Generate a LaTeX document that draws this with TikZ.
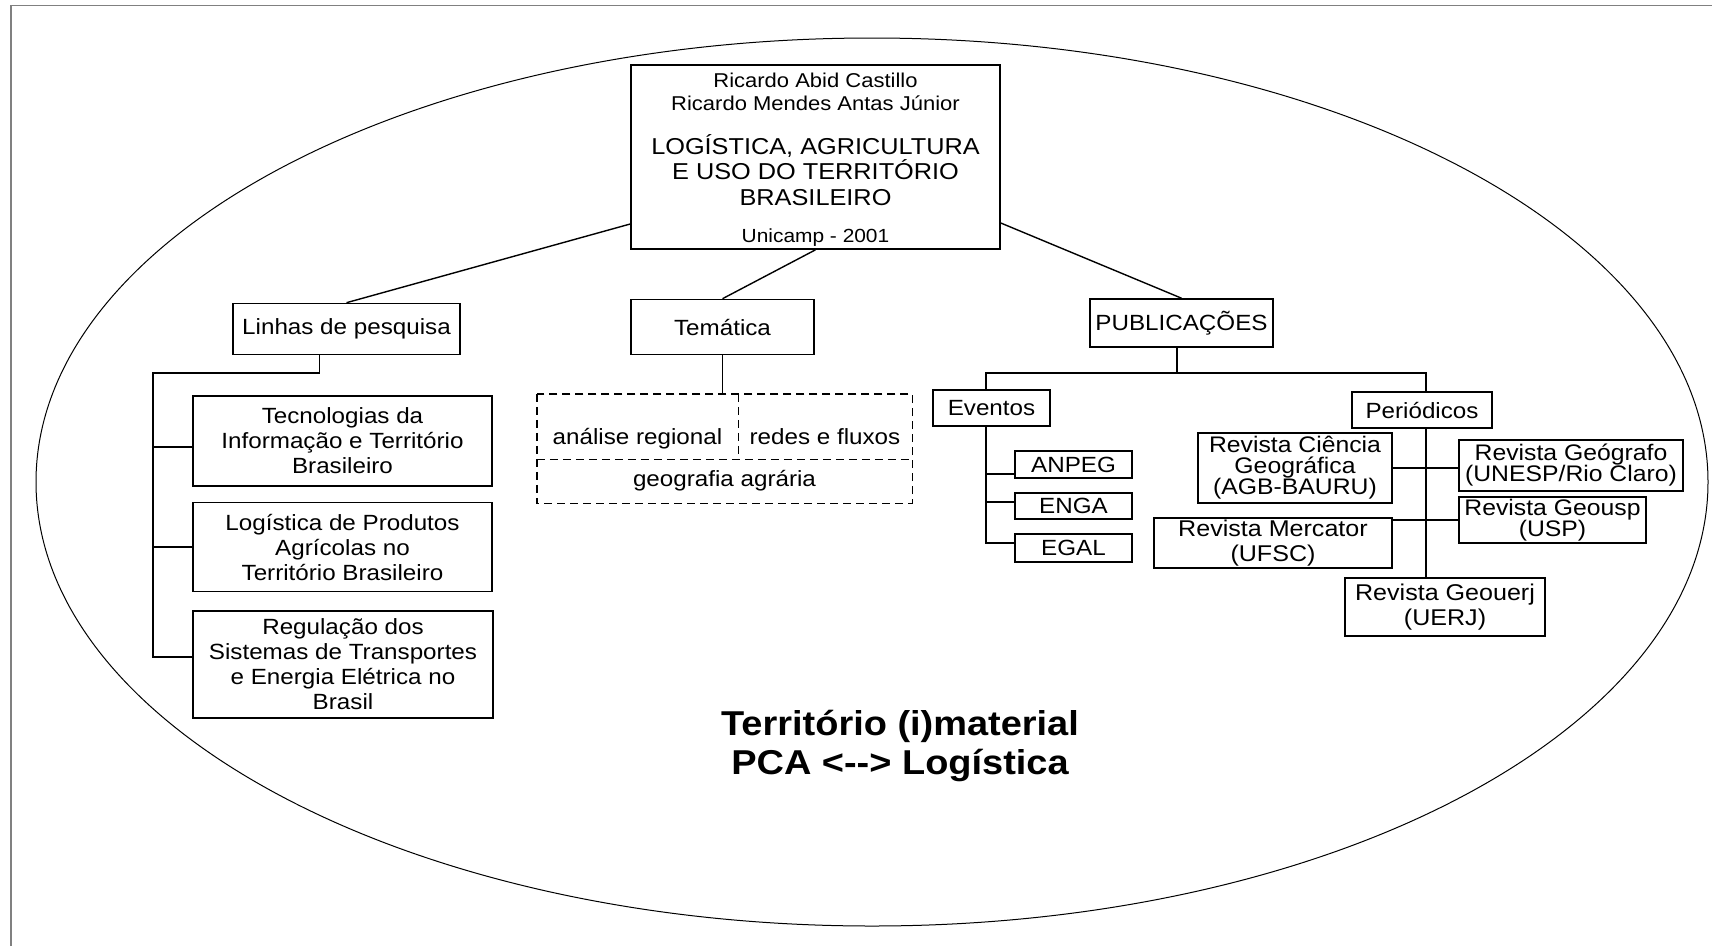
\documentclass[tikz,border=0pt]{standalone}
\usepackage{fontspec}
\setsansfont{Liberation Sans}[FakeStretch=1.1]
\usetikzlibrary{positioning, calc}
\tikzset{every node/.style={font=\sffamily}}
\definecolor{moldura}{HTML}{808080}

\begin{document}
\begin{tikzpicture}[x=1pt, y=-1pt,
    caixa/.style={draw, line width=1.6pt, inner sep=0pt, align=center, font=\sffamily\fontsize{22}{25}\selectfont},
    caixarev/.style={caixa, font=\sffamily\fontsize{22.5}{21}\selectfont},
    rotulo/.style={inner sep=0pt, font=\sffamily\fontsize{22}{25}\selectfont},
    textobaixo/.style={text height=35pt, text depth=0pt},
    tracejado/.style={dash pattern=on 8pt off 5pt, line width=1.4pt},
    liga/.style={line width=1.8pt},
    ramo/.style={line width=1.4pt}]
    \useasboundingbox (0,0) rectangle (1712,946);
    \draw[moldura, line width=1.5pt] (11,946) -- (11,5.5) -- (1712,5.5);
    \draw[line width=1pt] (872,482) ellipse [x radius=836pt, y radius=444pt];

    \node[draw, line width=1.6pt, minimum width=369pt, minimum height=184pt] (T) at (815.5,157) {};
    \node[align=center, font=\sffamily\fontsize{20}{23.4}\selectfont] (Aut) at (815.5,92) {Ricardo Abid Castillo\\Ricardo Mendes Antas Júnior};
    \node[align=center, font=\sffamily\fontsize{23}{25.8}\selectfont] (Tit) at (815.5,170) {LOGÍSTICA, AGRICULTURA\\E USO DO TERRITÓRIO\\BRASILEIRO};
    \node[anchor=base, font=\sffamily\fontsize{19}{22}\selectfont] (Uni) at (815.5,242) {Unicamp - 2001};

    \node[caixa, minimum width=227pt, minimum height=51pt] (Lin) at (346.5,329) {Linhas de pesquisa};
    \node[caixa, minimum width=183pt, minimum height=55pt] (Tem) at (722.5,327) {Temática};
    \node[caixa, minimum width=183pt, minimum height=48pt] (Pub) at (1181.5,323) {PUBLICAÇÕES};
    \draw[ramo] ([yshift=-67pt]T.west) -- (Lin.north);
    \draw[ramo] (T.south) -- (Tem.north);
    \draw[ramo] ([yshift=-66pt]T.east) -- (Pub.north);

    \node[caixa, minimum width=299pt, minimum height=90pt] (Tec) at (342.5,441) {Tecnologias da\\Informação e Território\\Brasileiro};
    \node[caixa, minimum width=299pt, minimum height=89pt] (Log) at (342.5,547) {Logística de Produtos\\Agrícolas no\\Território Brasileiro};
    \node[caixa, minimum width=300pt, minimum height=107pt] (Reg) at (343,664.5) {Regulação dos\\Sistemas de Transportes\\e Energia Elétrica no\\Brasil};
    \coordinate (Lt) at (153,373);
    \draw[liga] ([xshift=-27pt]Lin.south) |- (Lt) |- ([yshift=7.5pt]Reg.west);
    \draw[liga] ([yshift=-6pt]Tec.west) -| (Lt);
    \draw[liga] (Log.west) -| (Lt);

    \node[rotulo, textobaixo, minimum width=201pt, minimum height=65pt] (Ana) at (637.5,426.5) {análise regional};
    \node[rotulo, textobaixo, minimum width=174pt, minimum height=65pt] (Red) at (825,426.5) {redes e fluxos};
    \node[rotulo, minimum width=375pt, minimum height=44pt] (Geo) at (724.5,481) {geografia agrária};
    \draw[tracejado] (Ana.north west) rectangle (Geo.south east);
    \draw[tracejado] (Ana.south west) -- (Red.south east);
    \draw[tracejado] (Ana.north east) -- (Ana.south east);
    \draw[liga] (Tem.south) -- (Tem.south |- Ana.north);

    \coordinate (Pb) at (1177,373);
    \node[caixa, minimum width=117pt, minimum height=36pt] (Ev) at (991.5,408) {Eventos};
    \node[caixa, minimum width=140pt, minimum height=36pt] (Per) at (1422,410) {Periódicos};
    \draw[liga] ([xshift=-4.5pt]Pub.south) -- (Pb);
    \draw[liga] ([xshift=-5.5pt]Ev.north) |- (Pb) -| ([xshift=4pt]Per.north);

    \node[caixa, minimum width=117pt, minimum height=27pt] (Anp) at (1073.5,464.5) {ANPEG};
    \node[caixa, minimum width=117pt, minimum height=26pt] (Eng) at (1073.5,506) {ENGA};
    \node[caixa, minimum width=117pt, minimum height=28pt] (Egl) at (1073.5,548) {EGAL};
    \draw[liga] ([xshift=-5.5pt]Ev.south) |- ([yshift=5pt]Egl.west);
    \draw[liga] ([yshift=-9.5pt]Anp.west) -| ([xshift=-5.5pt]Ev.south);
    \draw[liga] ([yshift=4pt]Eng.west) -| ([xshift=-5.5pt]Ev.south);

    \node[caixarev, minimum width=194pt, minimum height=70pt] (Cie) at (1295,468) {Revista Ciência\\Geográfica\\(AGB-BAURU)};
    \node[caixarev, minimum width=224pt, minimum height=51pt] (Ggr) at (1571,465.5) {Revista Geógrafo\\(UNESP/Rio Claro)};
    \node[caixarev, minimum width=187pt, minimum height=46pt] (Gsp) at (1552.5,520) {Revista Geousp\\(USP)};
    \node[caixa, font=\sffamily\fontsize{22.8}{25}\selectfont, minimum width=238pt, minimum height=50pt] (Mer) at (1273,543) {Revista Mercator\\(UFSC)};
    \node[caixa, font=\sffamily\fontsize{22.8}{25}\selectfont, minimum width=200pt, minimum height=58pt] (Gue) at (1445,607) {Revista Geouerj\\(UERJ)};
    \coordinate (Tr) at ([xshift=4pt]Per.south);
    \draw[liga] (Tr) -- (Tr |- Gue.north);
    \draw[liga] (Cie.east) -- (Ggr.west |- Cie.east);
    \draw[liga] (Mer.east |- Gsp.west) -- (Gsp.west);

    \node[align=center, font=\sffamily\bfseries\fontsize{34.5}{39}\selectfont] (Lema) at (900,746) {Território (i)material\\PCA <{-}{-}> Logística};
\end{tikzpicture}
\end{document}
